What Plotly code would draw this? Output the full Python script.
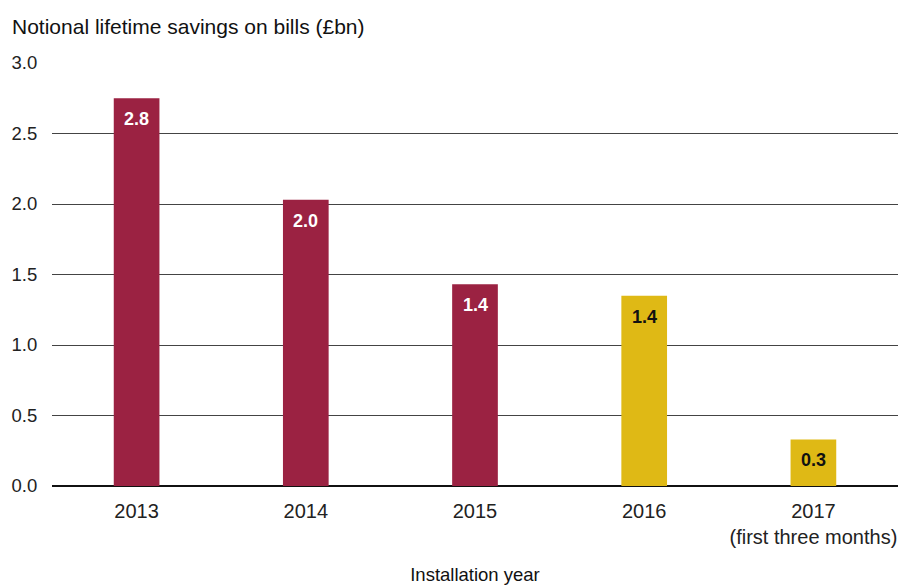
import plotly.graph_objects as go

# Notional lifetime savings on bills by installation year (£bn)
years = ["2013", "2014", "2015", "2016", "2017"]
tick_labels = ["2013", "2014", "2015", "2016", "2017<br>(first three months)"]
savings = [2.75, 2.03, 1.43, 1.35, 0.33]
bar_colors = ["#9B2242", "#9B2242", "#9B2242", "#DFB915", "#DFB915"]
label_colors = ["#FFFFFF", "#FFFFFF", "#FFFFFF", "#111111", "#111111"]

FONT = "Liberation Sans, Arial, Helvetica, sans-serif"

fig = go.Figure(
    go.Bar(
        x=years,
        y=savings,
        marker=dict(color=bar_colors, line=dict(width=0)),
        hoverinfo="skip",
    )
)

# value labels sit just inside the top of each bar (x given as category index)
for i, (v, c) in enumerate(zip(savings, label_colors)):
    fig.add_annotation(
        x=i, y=v, text=f"<b>{v:.1f}</b>",
        showarrow=False, yanchor="middle", yshift=-21,
        font=dict(family=FONT, size=18, color=c),
    )

fig.update_layout(
    width=901, height=585,
    margin=dict(l=52, r=3, t=63, b=99),
    plot_bgcolor="white", paper_bgcolor="white",
    bargap=0.73,
    showlegend=False,
    font=dict(family=FONT, color="#222222"),
    title=dict(
        text="Notional lifetime savings on bills (£bn)",
        x=12 / 901, xanchor="left", xref="container",
        y=1 - 27 / 585, yanchor="middle", yref="container",
        font=dict(family=FONT, size=21, color="#111111"),
    ),
    xaxis=dict(
        type="category", range=[-0.5, 4.5], automargin=False,
        tickmode="array", tickvals=years, ticktext=tick_labels,
        tickangle=0,
        tickfont=dict(family=FONT, size=20, color="#222222"),
        ticks="outside", ticklen=7, tickcolor="rgba(0,0,0,0)",
        showgrid=False, showline=False, zeroline=False,
        title=dict(text="Installation year", standoff=30,
                   font=dict(family=FONT, size=18.5, color="#111111")),
    ),
    yaxis=dict(
        range=[0, 3], tickvals=[0, 0.5, 1, 1.5, 2, 2.5, 3],
        tickformat=".1f", automargin=False,
        tickfont=dict(family=FONT, size=18.5, color="#222222"),
        ticks="outside", ticklen=10, tickcolor="rgba(0,0,0,0)",
        showgrid=True, gridcolor="#444444", gridwidth=1,
        zeroline=True, zerolinecolor="#111111", zerolinewidth=1.5,
        showline=False,
    ),
)

fig.write_html("out.html")
